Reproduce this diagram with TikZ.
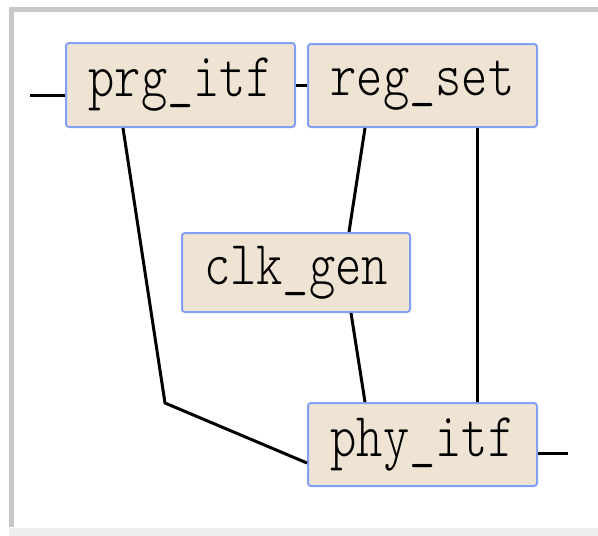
\documentclass[tikz,border=0pt]{standalone}
\usepackage{fontspec}
\usetikzlibrary{calc}
\newfontfamily\monolight{Latin Modern Mono Light}
\definecolor{boxfill}{RGB}{239,228,211}
\definecolor{boxline}{RGB}{130,160,245}
\definecolor{frameg}{RGB}{200,200,200}
\definecolor{framel}{RGB}{238,238,238}
\tikzset{
  block/.style={draw=boxline, fill=boxfill, line width=2pt, rounded corners=3pt,
    inner sep=0pt, minimum width=229pt, minimum height=83pt,
    font=\fontsize{50}{50}\selectfont\monolight},
  wire/.style={draw=black, line width=3pt}
}
\newcommand{\blocklabel}[1]{\scalebox{1}[1.25]{#1}}
\begin{document}
\begin{tikzpicture}[x=1pt,y=-1pt]
  \useasboundingbox (0,0) rectangle (598,536);
  % window frame
  \fill[frameg] (9,7) rectangle (598,12);
  \fill[frameg] (9,12) rectangle (14,527);
  \fill[framel] (9,528) rectangle (598,536);

  % blocks
  \node[block, minimum height=84pt] (prg) at (180.5,85) {\blocklabel{prg\_itf}};
  \node[block] (reg) at (422.5,85.5) {\blocklabel{reg\_set}};
  \node[block, minimum width=228pt, minimum height=79pt] (clk) at (296,272.5) {\blocklabel{clk\_gen}};
  \node[block] (phy) at (422.5,444.5) {\blocklabel{phy\_itf}};

  % free ends and bend point
  \coordinate (inp) at (30,95);
  \coordinate (outp) at (568,453);
  \coordinate (bend) at (165,403);

  % connections
  \draw[wire] (inp) -- (inp -| prg.west);
  \draw[wire] (prg.east) -- (reg.west |- prg.east);
  \draw[wire] ($(reg.south west)+(58,0)$) -- ($(clk.north west)+(168,0)$);
  \draw[wire] ($(reg.south west)+(170,0)$) -- ($(phy.north west)+(170,0)$);
  \draw[wire] ($(clk.south west)+(170,0)$) -- ($(phy.north west)+(58,0)$);
  \draw[wire] ($(prg.south west)+(58,0)$) -- (bend) -- ($(phy.west)+(0,18.5)$);
  \draw[wire] (outp -| phy.east) -- (outp);
\end{tikzpicture}
\end{document}
